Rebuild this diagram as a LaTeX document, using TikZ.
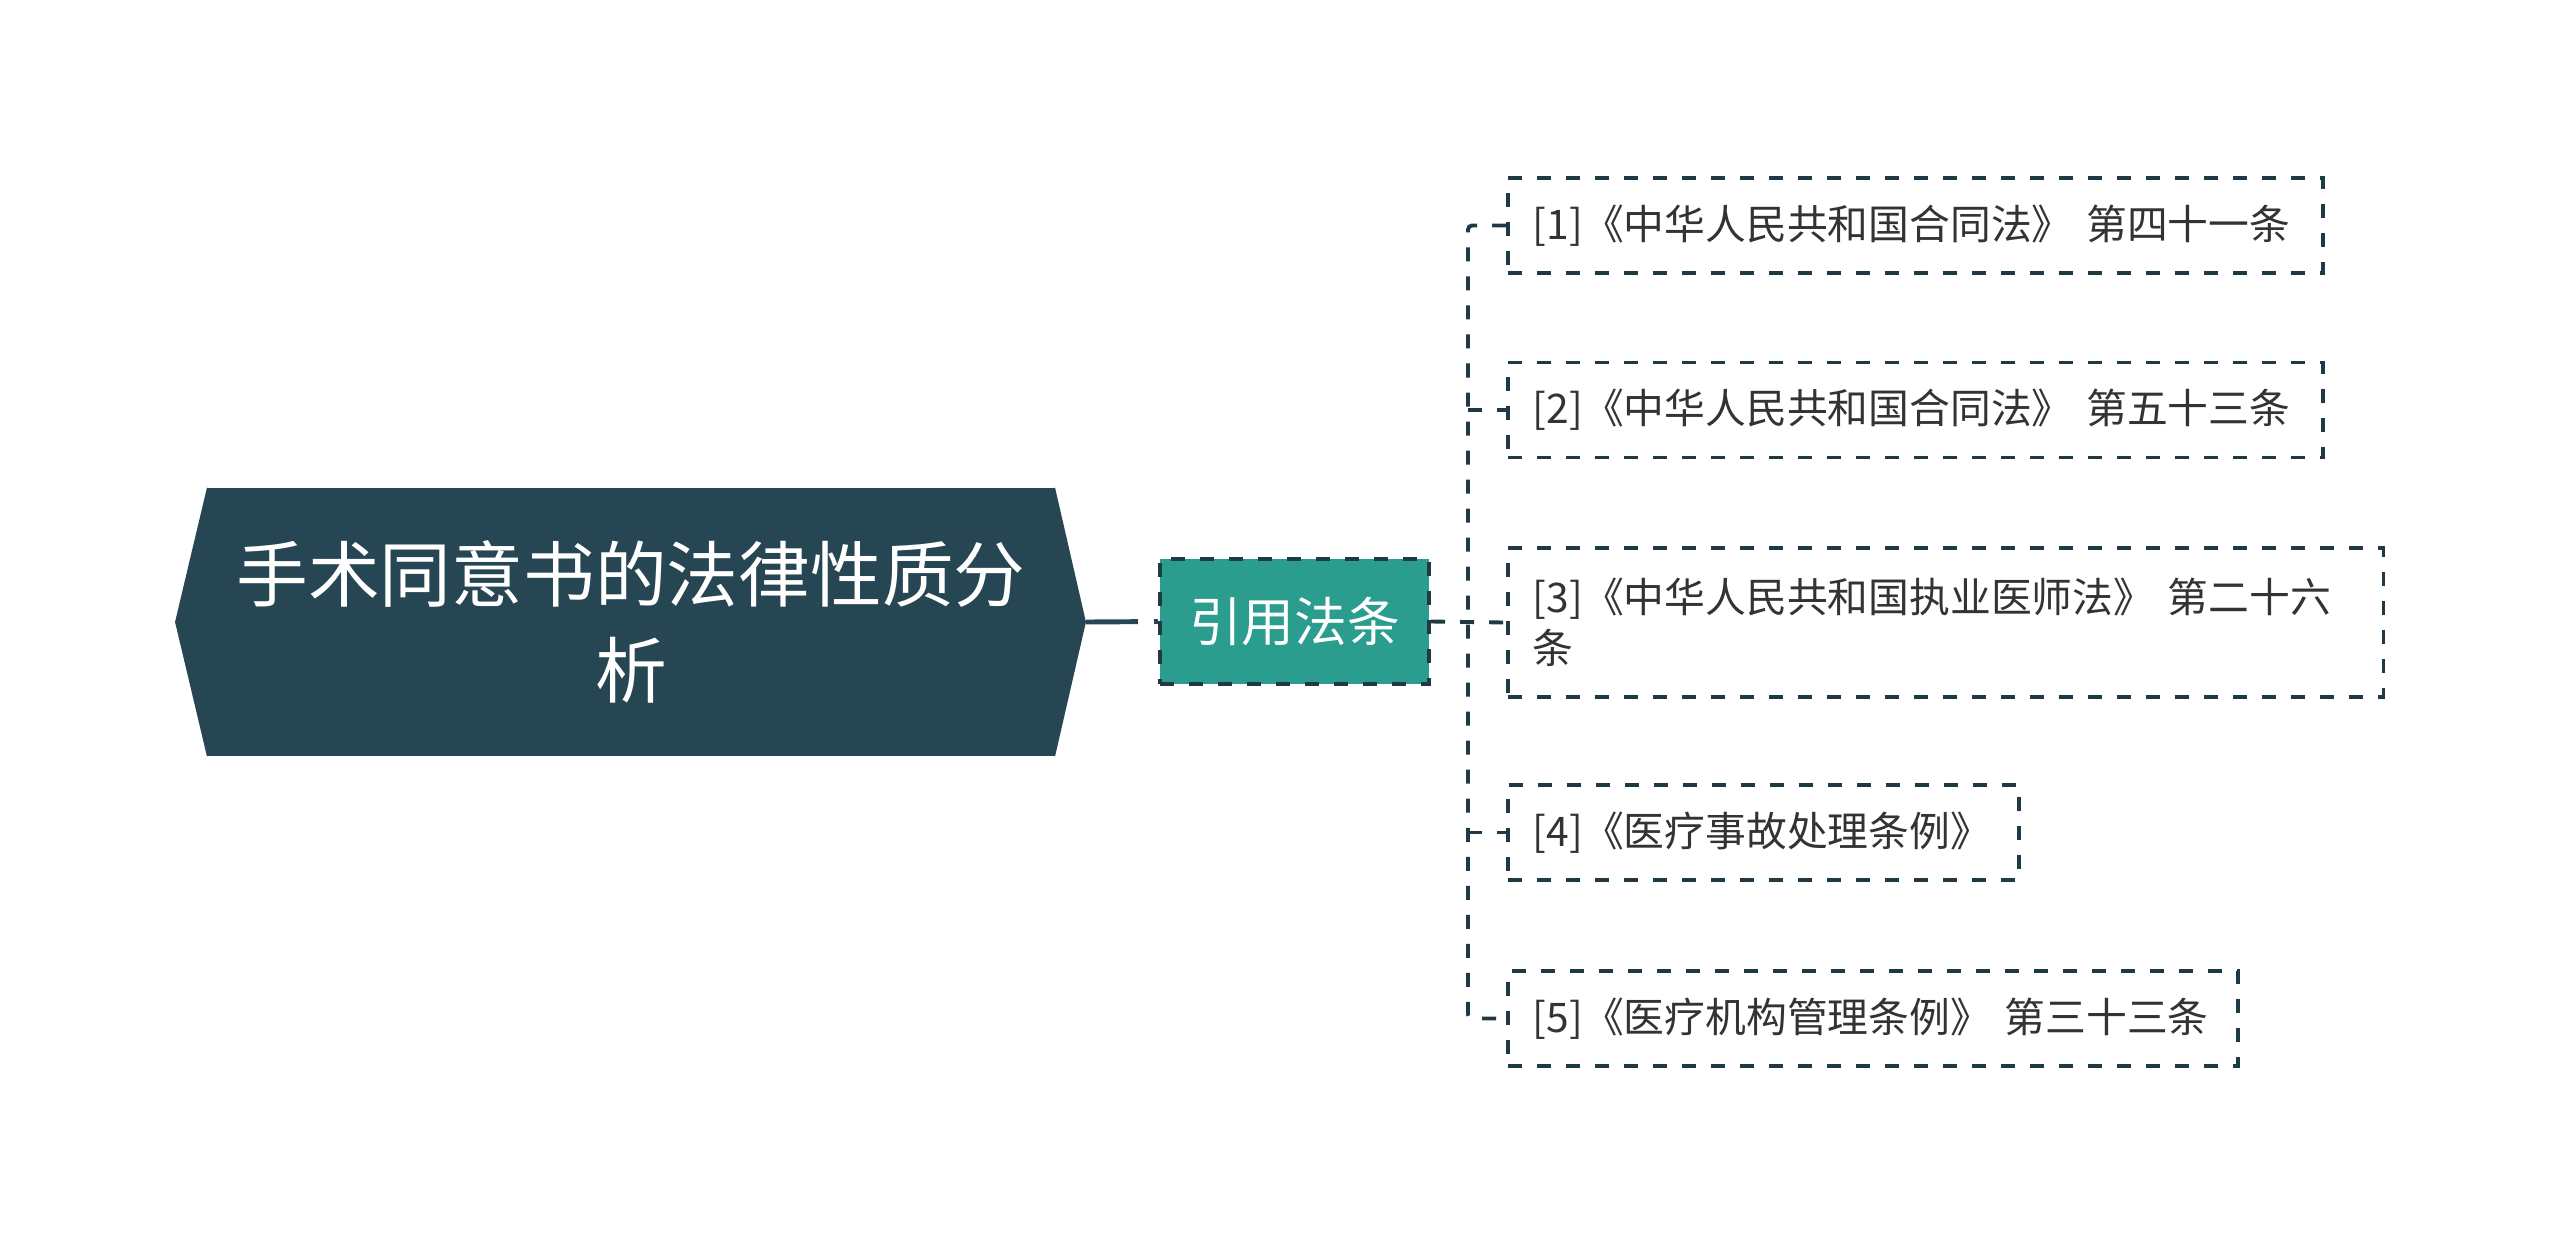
\documentclass[tikz,border=0pt]{standalone}
\usepackage{fontspec}
\newfontfamily\cjk{Noto Sans CJK SC}
\usepackage{xcolor}
\usepackage{tikz}
\usetikzlibrary{calc}
\definecolor{rootblue}{RGB}{39,70,83}
\definecolor{topicteal}{RGB}{42,157,143}
\definecolor{linegray}{RGB}{31,58,69}
\definecolor{textgray}{RGB}{51,51,51}

\begin{document}
\begin{tikzpicture}[x=0.01cm, y=-0.01cm]
    \tikzstyle{root} = [rectangle, minimum width=8.48cm, minimum height=2.68cm, inner sep=0pt, fill=rootblue, text=white, align=center, font=\cjk\fontsize{20.4pt}{27.5pt}\selectfont]
    \tikzstyle{topic} = [rectangle, minimum width=2.69cm, minimum height=1.25cm, inner sep=0pt, fill=topicteal, draw=linegray, line width=1.1pt, dash pattern=on 0.14cm off 0.15cm, text=white, font=\cjk\fontsize{15pt}{18pt}\selectfont]
    \tikzstyle{leaf} = [rectangle, anchor=west, minimum height=0.95cm, inner xsep=0.25cm, inner ysep=0pt, draw=linegray, line width=1.1pt, dash pattern=on 0.14cm off 0.15cm, text=textgray, align=left, font=\cjk\fontsize{11.6pt}{14.5pt}\selectfont]
    \tikzstyle{link} = [draw=linegray, line width=1.1pt, dash pattern=on 0.14cm off 0.15cm]

    \useasboundingbox (0,0) rectangle (2560,1244);

    % Root
    \node [root] (root) at (631,622) {手术同意书的法律性质分\\析};
    \fill [rootblue] ($(root.north east)+(-1,0)$) -- ($(root.east)+(30,0)$) -- ($(root.south east)+(-1,0)$) -- cycle;
    \fill [rootblue] ($(root.north west)+(1,0)$) -- ($(root.west)+(-31,0)$) -- ($(root.south west)+(1,0)$) -- cycle;
    \coordinate (tip) at ($(root.east)+(30,0)$);

    % Topic
    \node [topic] (topic) at (1294.5,621.5) {引用法条};

    % Laws
    \node [leaf, text width=7.65cm] (law1) at (1506,225.5) {[1]《中华人民共和国合同法》~第四十一条};
    \node [leaf, text width=7.65cm] (law2) at (1506,410) {[2]《中华人民共和国合同法》~第五十三条};
    \node [leaf, text width=8.25cm, minimum height=1.49cm] (law3) at (1506,622.5) {[3]《中华人民共和国执业医师法》~第二十六\\条};
    \node [leaf, text width=4.61cm] (law4) at (1506,832.5) {[4]《医疗事故处理条例》};
    \node [leaf, text width=6.80cm] (law5) at (1506,1018.5) {[5]《医疗机构管理条例》~第三十三条};

    % Connections
    \draw [rootblue, line width=1.4pt, dash pattern=on 0.52cm off 0.16cm] (tip) -- (topic.west);

    \coordinate (bus) at (1468,622);
    \draw [link] (topic.east) -- (law3.west);
    \draw [link, rounded corners=0.04cm] (law1.west) -- (bus |- law1.west) -- (bus |- law5.west) -- (law5.west);
    \draw [link] (bus |- law2.west) -- (law2.west);
    \draw [link] (bus |- law4.west) -- (law4.west);
\end{tikzpicture}
\end{document}
